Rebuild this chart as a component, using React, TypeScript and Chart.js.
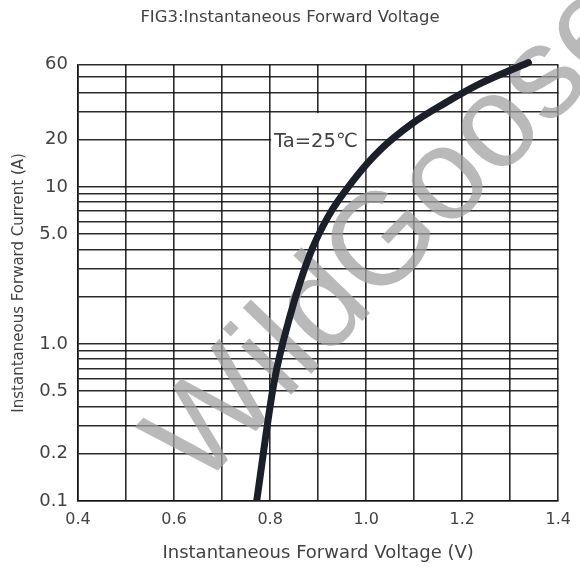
import React, { useEffect, useRef } from 'react';
import { Chart, registerables } from 'chart.js';

Chart.register(...registerables);

// ---- data ----
const VOLTAGE = [0.772, 0.808, 0.841, 0.881, 0.921, 0.974, 1.029, 1.097, 1.164, 1.232, 1.338];
const CURRENT = [0.1, 0.565, 1.49, 3.6, 6.5, 11.1, 17.2, 25.5, 34.2, 44.7, 62];

const X_MIN = 0.4;
const X_MAX = 1.4;
const X_STEP = 0.1;
const X_TICK_LABELS = ['0.4', '0.6', '0.8', '1.0', '1.2', '1.4'];

const Y_MIN = 0.1;
const Y_MAX = 60;
const Y_GRID = [
  0.1, 0.2, 0.3, 0.4, 0.5, 0.6, 0.7, 0.8, 0.9,
  1, 2, 3, 4, 5, 6, 7, 8, 9,
  10, 20, 30, 40, 50, 60,
];
const Y_TICK_VALUES = [0.1, 0.2, 0.5, 1, 5, 10, 20, 60];
const Y_TICK_LABELS = ['0.1', '0.2', '0.5', '1.0', '5.0', '10', '20', '60'];

const TITLE = 'FIG3:Instantaneous Forward Voltage';
const X_TITLE = 'Instantaneous Forward Voltage (V)';
const Y_TITLE = 'Instantaneous Forward Current (A)';
const NOTE = 'Ta=25\u2103';
const NOTE_BOX_X = [0.8, 1.0];
const NOTE_BOX_Y = [10, 30];
const NOTE_AT_Y = 20;
const WATERMARK = 'WildGoose';

const FONT = 'DejaVu Sans';
const TEXT_COLOR = '#424242';
const GRID_COLOR = 'rgba(20,20,20,0.9)';

const notePlugin = {
  id: 'noteBox',
  beforeDatasetsDraw(chart: any) {
    const { ctx, scales } = chart;
    const xs = scales.x;
    const ys = scales.y;
    const x0 = xs.getPixelForValue(NOTE_BOX_X[0]);
    const x1 = xs.getPixelForValue(NOTE_BOX_X[1]);
    const y0 = ys.getPixelForValue(NOTE_BOX_Y[1]);
    const y1 = ys.getPixelForValue(NOTE_BOX_Y[0]);
    ctx.save();
    ctx.fillStyle = '#ffffff';
    ctx.fillRect(x0 + 1, y0 + 1, x1 - x0 - 2, y1 - y0 - 2);
    ctx.fillStyle = TEXT_COLOR;
    ctx.font = `19.5px "${FONT}"`;
    ctx.textAlign = 'left';
    ctx.textBaseline = 'middle';
    ctx.fillText(NOTE, x0 + 4, ys.getPixelForValue(NOTE_AT_Y) + 2);

    // watermark
    ctx.translate(199, 490);
    ctx.rotate((-46 * Math.PI) / 180);
    ctx.font = '131px "Liberation Sans"';
    ctx.fillStyle = 'rgba(160,160,160,0.74)';
    ctx.textAlign = 'left';
    ctx.textBaseline = 'alphabetic';
    ctx.fillText(WATERMARK, 0, 0);
    ctx.restore();
  },
};

export default function App() {
  const ref = useRef<HTMLCanvasElement | null>(null);

  useEffect(() => {
    if (!ref.current) return;
    const points = VOLTAGE.map((v, i) => ({ x: v, y: CURRENT[i] }));
    const chart = new Chart(ref.current, {
      type: 'line',
      data: {
        datasets: [
          {
            data: points,
            borderColor: '#1b1f29',
            borderWidth: 7,
            borderCapStyle: 'round',
            pointRadius: 0,
            cubicInterpolationMode: 'monotone',
            fill: false,
            clip: { left: 0, bottom: 0, right: 10, top: 10 },
          } as any,
        ],
      },
      options: {
        responsive: false,
        animation: false,
        layout: { padding: 0 },
        plugins: {
          legend: { display: false },
          tooltip: { enabled: false },
          title: {
            display: true,
            text: TITLE,
            color: TEXT_COLOR,
            font: { family: FONT, size: 16.5, weight: 'normal' },
            padding: { top: 8, bottom: 37 },
          },
        },
        scales: {
          x: {
            type: 'linear',
            min: X_MIN,
            max: X_MAX,
            afterBuildTicks(scale: any) {
              const ticks = [];
              const n = Math.round((X_MAX - X_MIN) / X_STEP);
              for (let i = 0; i <= n; i++) ticks.push({ value: +(X_MIN + i * X_STEP).toFixed(1) });
              scale.ticks = ticks;
            },
            afterFit(scale: any) {
              scale.height = 66;
            },
            ticks: {
              autoSkip: false,
              maxRotation: 0,
              color: TEXT_COLOR,
              padding: 9,
              font: { family: FONT, size: 16 },
              callback: (v: any) => {
                const s = Number(v).toFixed(1);
                return X_TICK_LABELS.includes(s) ? s : '';
              },
            },
            grid: { color: GRID_COLOR, lineWidth: 1.6, drawTicks: false },
            border: { display: true, color: GRID_COLOR, width: 1.6 },
            title: {
              display: true,
              text: X_TITLE,
              color: TEXT_COLOR,
              font: { family: FONT, size: 18 },
              padding: 3,
            },
          },
          y: {
            type: 'logarithmic',
            min: Y_MIN,
            max: Y_MAX,
            afterBuildTicks(scale: any) {
              scale.ticks = Y_GRID.map((v) => ({ value: v }));
            },
            afterFit(scale: any) {
              scale.width = 78;
            },
            ticks: {
              autoSkip: false,
              color: TEXT_COLOR,
              padding: 10,
              font: { family: FONT, size: 18 },
              callback: (v: any) => {
                const idx = Y_TICK_VALUES.findIndex((t) => Math.abs(t - Number(v)) < 1e-9);
                return idx >= 0 ? Y_TICK_LABELS[idx] : '';
              },
            },
            grid: { color: GRID_COLOR, lineWidth: 1.6, drawTicks: false },
            border: { display: true, color: GRID_COLOR, width: 1.6 },
            title: {
              display: true,
              text: Y_TITLE,
              color: TEXT_COLOR,
              font: { family: FONT, size: 15 },
              padding: 10,
            },
          },
        },
      } as any,
      plugins: [notePlugin],
    });
    return () => chart.destroy();
  }, []);

  return (
    <div style={{ position: 'absolute', left: 0, top: 0, width: 580, height: 567, background: '#fff' }}>
      <canvas ref={ref} width={580} height={567} />
    </div>
  );
}
